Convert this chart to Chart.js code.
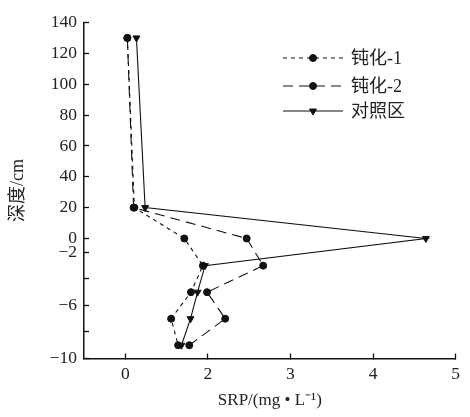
<!DOCTYPE html>
<html>
<head>
<meta charset="utf-8">
<script src="https://cdn.jsdelivr.net/npm/chart.js@4"></script>
<style>
  html, body { margin: 0; padding: 0; background: #fff; }
  #wrap { width: 470px; height: 417px; }
</style>
</head>
<body>
<div id="wrap"><canvas id="srpChart"></canvas></div>
<script>
// depth of each sampling layer (cm), same for all three profiles
const depths = [130, 20, 0, -3, -5, -7, -9];
// SRP concentration, mg/L
const srpPass1 = [0.05, 0.22, 1.43, 1.88, 1.59, 1.11, 1.28];
const srpPass2 = [0.05, 0.20, 2.47, 2.67, 1.98, 2.21, 1.55];
const srpControl = [0.27, 0.48, 4.64, 1.93, 1.75, 1.58, 1.36];

const seriesNames = ['钝化-1', '钝化-2', '对照区'];
const xTickValues = [0, 2, 3, 4, 5];
const yTickValues = [140, 120, 100, 80, 60, 40, 20, 0, -2, -4, -6, -8, -10];
const yTickLabels = ['140', '120', '100', '80', '60', '40', '20', '0', '−2', '', '−6', '', '−10'];

// the axes are broken: 0..2 squeezed into one tick step, and the sediment part
// below 0 cm stretched; map values onto a plain linear position
const xPos = v => (v <= 2 ? v / 2 : v - 1);
const yPos = d => (d >= 0 ? d : d >= -2 ? d * 4.5 : -9 + (d + 2) * 8.6);

const toPoints = srp => srp.map((v, i) => ({ x: xPos(v), y: yPos(depths[i]) }));

const INK = '#111';
const serif = "'Liberation Serif', 'Noto Sans CJK SC', serif";

const datasets = [
  {
    label: seriesNames[0],
    data: toPoints(srpPass1),
    borderDash: [4, 4],
    pointStyle: 'circle',
    pointRadius: 3.5,
    pointRotation: 0
  },
  {
    label: seriesNames[1],
    data: toPoints(srpPass2),
    borderDash: [10, 6],
    pointStyle: 'circle',
    pointRadius: 3.5,
    pointRotation: 0
  },
  {
    label: seriesNames[2],
    data: toPoints(srpControl),
    borderDash: [],
    pointStyle: 'triangle',
    pointRadius: 4,
    pointRotation: 180
  }
].map(ds => Object.assign(ds, {
  borderColor: INK,
  backgroundColor: INK,
  pointBackgroundColor: INK,
  pointBorderColor: INK,
  borderWidth: 1.1,
  pointBorderWidth: 1,
  tension: 0,
  fill: false
}));

// legend drawn inside the plot, line + marker per row
const insideLegend = {
  id: 'insideLegend',
  afterDraw(chart) {
    const ctx = chart.ctx;
    const rows = [58, 86, 111];
    ctx.save();
    chart.data.datasets.forEach((ds, i) => {
      const y = rows[i];
      ctx.strokeStyle = INK;
      ctx.fillStyle = INK;
      ctx.lineWidth = 1.1;
      ctx.setLineDash(ds.borderDash);
      ctx.beginPath();
      ctx.moveTo(283, y);
      ctx.lineTo(343, y);
      ctx.stroke();
      ctx.setLineDash([]);
      ctx.lineWidth = 1;
      Chart.helpers.drawPoint(ctx, {
        pointStyle: ds.pointStyle,
        rotation: ds.pointRotation,
        radius: ds.pointRadius,
        borderWidth: 1
      }, 313, y);
      ctx.fillStyle = '#222';
      ctx.font = "18px " + serif;
      ctx.textBaseline = 'middle';
      ctx.textAlign = 'left';
      ctx.fillText(ds.label, 351, y + 1);
    });
    ctx.restore();
  }
};

new Chart(document.getElementById('srpChart'), {
  type: 'line',
  data: { datasets },
  plugins: [insideLegend],
  options: {
    responsive: true,
    maintainAspectRatio: false,
    animation: false,
    layout: { padding: { top: 16, right: 9, left: 0, bottom: 0 } },
    plugins: {
      legend: { display: false },
      tooltip: { enabled: false }
    },
    scales: {
      x: {
        type: 'linear',
        min: xPos(-1),
        max: xPos(5),
        afterBuildTicks: scale => { scale.ticks = xTickValues.map(v => ({ value: xPos(v) })); },
        afterFit: scale => { scale.height = 58.5; },
        ticks: {
          color: '#222',
          padding: 10,
          maxRotation: 0,
          autoSkip: false,
          font: { family: serif, size: 17.5 },
          callback: (val, i) => String(xTickValues[i])
        },
        grid: { drawOnChartArea: false, tickLength: -5, tickColor: INK, tickWidth: 1.3 },
        border: { color: INK, width: 1.5 },
        title: {
          display: true,
          text: 'SRP/(mg • L⁻¹)',
          color: '#222',
          font: { family: serif, size: 17 },
          padding: { top: 0, bottom: 6 }
        }
      },
      y: {
        type: 'linear',
        min: yPos(-10),
        max: 140,
        afterBuildTicks: scale => { scale.ticks = yTickValues.map(v => ({ value: yPos(v) })); },
        afterFit: scale => { scale.width = 84; },
        ticks: {
          color: '#222',
          padding: 12,
          autoSkip: false,
          font: { family: serif, size: 17.5 },
          callback: (val, i) => yTickLabels[i]
        },
        grid: { drawOnChartArea: false, tickLength: -5, tickColor: INK, tickWidth: 1.3 },
        border: { color: INK, width: 1.5 },
        title: {
          display: true,
          text: '深度/cm',
          color: '#222',
          font: { family: serif, size: 18 },
          padding: { top: 7, bottom: 0 }
        }
      }
    }
  }
});
</script>
</body>
</html>
